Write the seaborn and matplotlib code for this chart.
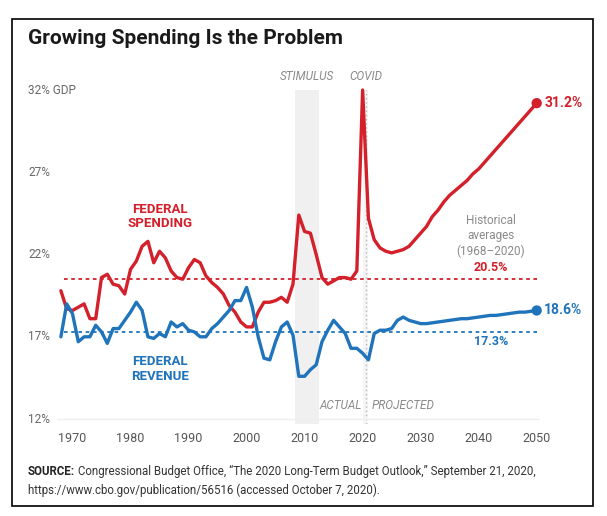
import pandas as pd
import matplotlib
matplotlib.use('Agg')
import matplotlib.pyplot as plt
import matplotlib.transforms as mtransforms
from matplotlib.patches import Rectangle
import seaborn as sns

# Dados (% do PIB)
years_hist = list(range(1968, 2021))
spending_hist = [19.8, 18.7, 18.6, 18.8, 19.0, 18.1, 18.1, 20.6, 20.8, 20.2,
                 20.1, 19.6, 21.1, 21.6, 22.5, 22.8, 21.5, 22.2, 21.8, 21.0,
                 20.6, 20.5, 21.2, 21.7, 21.5, 20.7, 20.3, 20.0, 19.6, 18.9,
                 18.5, 17.9, 17.6, 17.6, 18.5, 19.1, 19.1, 19.2, 19.4, 19.1,
                 20.2, 24.4, 23.4, 23.3, 22.0, 20.6, 20.2, 20.4, 20.6, 20.6,
                 20.5, 21.0, 32.0]
revenue_hist = [17.0, 19.0, 18.4, 16.7, 17.0, 17.0, 17.7, 17.3, 16.6, 17.5,
                17.5, 18.0, 18.5, 19.1, 18.6, 17.0, 16.9, 17.2, 17.0, 17.9,
                17.6, 17.8, 17.4, 17.3, 17.0, 17.0, 17.5, 17.8, 18.2, 18.6,
                19.2, 19.2, 20.0, 18.8, 17.0, 15.7, 15.6, 16.7, 17.6, 17.9,
                17.1, 14.6, 14.6, 15.0, 15.3, 16.7, 17.4, 18.0, 17.6, 17.2,
                16.3, 16.3, 16.0]

years_proj = list(range(2021, 2051))
spending_proj = [24.2, 22.9, 22.4, 22.2, 22.1, 22.2, 22.3, 22.5, 22.9, 23.3,
                 23.7, 24.3, 24.7, 25.2, 25.6, 25.9, 26.2, 26.5, 26.9, 27.2,
                 27.6, 28.0, 28.4, 28.8, 29.2, 29.6, 30.0, 30.4, 30.8, 31.2]
revenue_proj = [15.6, 17.2, 17.4, 17.4, 17.5, 18.0, 18.2, 18.0, 17.9, 17.8,
                17.8, 17.85, 17.9, 17.95, 18.0, 18.05, 18.1, 18.1, 18.15, 18.2,
                18.25, 18.3, 18.3, 18.35, 18.4, 18.45, 18.5, 18.5, 18.55, 18.6]

spending_avg = 20.5
revenue_avg = 17.3
y_ticks = [12, 17, 22, 27, 32]
y_labels = ['12%', '17%', '22%', '27%', '32% GDP']
x_ticks = list(range(1970, 2051, 10))

RED = '#d3202a'
BLUE = '#1f74bb'
GRAY = '#8a8a8a'

sns.set_style('white')
plt.rcParams['font.family'] = ['Roboto', 'DejaVu Sans']

years = years_hist + years_proj
df = pd.DataFrame({
    'Ano': years * 2,
    'Valor': spending_hist + spending_proj + revenue_hist + revenue_proj,
    'Serie': ['Gasto'] * len(years) + ['Receita'] * len(years),
})

fig = plt.figure(figsize=(6.07, 5.16), dpi=100)
W, H = 607, 516
ax = fig.add_axes([57 / W, (H - 424) / H, 483 / W, (424 - 90) / H])
ax.set_xlim(1967.33, 2050.57)
ax.set_ylim(11.70, 32)

# faixas de fundo
ax.axvspan(2008.4, 2012.4, color='#f0f0f0', zorder=0, lw=0)
ax.axvspan(2020.1, 2021.0, color='#f5f5f5', zorder=0, lw=0)
ax.axvline(2020.6, color='#b8b8b8', ls=(0, (1, 2)), lw=1, zorder=0.5)
ax.axhline(12, color='#eeeeee', lw=1, zorder=0.5)

# médias históricas
ax.plot([1968.5, 2050], [spending_avg] * 2, color=RED, ls=(0, (2, 2)), lw=1.3, zorder=1)
ax.plot([1968.5, 2050], [revenue_avg] * 2, color=BLUE, ls=(0, (2, 2)), lw=1.3, zorder=1)

sns.lineplot(data=df, x='Ano', y='Valor', hue='Serie',
             palette={'Gasto': RED, 'Receita': BLUE},
             linewidth=2.4, legend=False, ax=ax, zorder=3, clip_on=False)

ends = df[df['Ano'] == years_proj[-1]]
sns.scatterplot(data=ends, x='Ano', y='Valor', hue='Serie',
                palette={'Gasto': RED, 'Receita': BLUE},
                s=55, edgecolor='none', legend=False, ax=ax, zorder=4, clip_on=False)

for s in ax.spines.values():
    s.set_visible(False)
ax.set_xlabel('')
ax.set_ylabel('')
ax.set_yticks([])
ax.set_xticks(x_ticks)
ax.tick_params(axis='x', length=0, pad=6, labelsize=9, labelcolor='#555555')

# rótulos do eixo y
ytrans = mtransforms.blended_transform_factory(fig.transFigure, ax.transData)
for v, lab in zip(y_ticks, y_labels):
    fig.text(28 / W, v, lab, transform=ytrans, ha='left', va='center',
             fontsize=8.5, color='#666666')

# anotações
ax.text(2010.4, 32.8, 'STIMULUS', ha='center', va='center', style='italic',
        fontsize=8.5, color=GRAY)
ax.text(2020.6, 32.8, 'COVID', ha='center', va='center', style='italic',
        fontsize=8.5, color=GRAY)
ax.text(2019.9, 12.85, 'ACTUAL', ha='right', va='center', style='italic',
        fontsize=8.5, color=GRAY)
ax.text(2021.6, 12.85, 'PROJECTED', ha='left', va='center', style='italic',
        fontsize=8.5, color=GRAY)

ax.text(1985.1, 24.3, 'FEDERAL\nSPENDING', ha='center', va='center',
        fontsize=9.5, weight='bold', color=RED, linespacing=1.15)
ax.text(1985.1, 15.05, 'FEDERAL\nREVENUE', ha='center', va='center',
        fontsize=9.5, weight='bold', color=BLUE, linespacing=1.15)

ax.text(2042.1, 23.12, 'Historical\naverages\n(1968–2020)', ha='center', va='center',
        fontsize=8.5, color=GRAY, linespacing=1.2)
ax.text(2042.1, 21.24, f'{spending_avg}%', ha='center', va='center',
        fontsize=9, weight='bold', color=RED)
ax.text(2042.1, 16.7, f'{revenue_avg}%', ha='center', va='center',
        fontsize=9, weight='bold', color=BLUE)

ax.text(2051.3, spending_proj[-1], f'{spending_proj[-1]}%', ha='left', va='center',
        fontsize=10, weight='bold', color=RED)
ax.text(2051.3, revenue_proj[-1], f'{revenue_proj[-1]}%', ha='left', va='center',
        fontsize=10, weight='bold', color=BLUE)

# título
fig.text(28 / W, 1 - 38.5 / H, 'Growing Spending Is the Problem', ha='left', va='center',
         fontsize=15, weight='bold', color='#1a1a1a')

# fonte
r = fig.canvas.get_renderer()
t = fig.text(28 / W, 1 - 471.5 / H, 'SOURCE:', ha='left', va='center',
             fontsize=8.3, weight='bold', color='#222222')
bb = t.get_window_extent(renderer=r)
fig.text((bb.x1 + 3) / W, 1 - 471.5 / H,
         'Congressional Budget Office, \u201cThe 2020 Long-Term Budget Outlook,\u201d September 21, 2020,',
         ha='left', va='center', fontsize=8.3, color='#333333')
fig.text(28 / W, 1 - 490 / H,
         'https://www.cbo.gov/publication/56516 (accessed October 7, 2020).',
         ha='left', va='center', fontsize=8.3, color='#333333')

# moldura
fig.patches.append(Rectangle((12 / W, 1 - 506 / H), (593 - 12) / W, (506 - 19) / H,
                             transform=fig.transFigure, fill=False, lw=1.2,
                             ec='black'))

plt.savefig('out.png', dpi=100)
plt.close()
